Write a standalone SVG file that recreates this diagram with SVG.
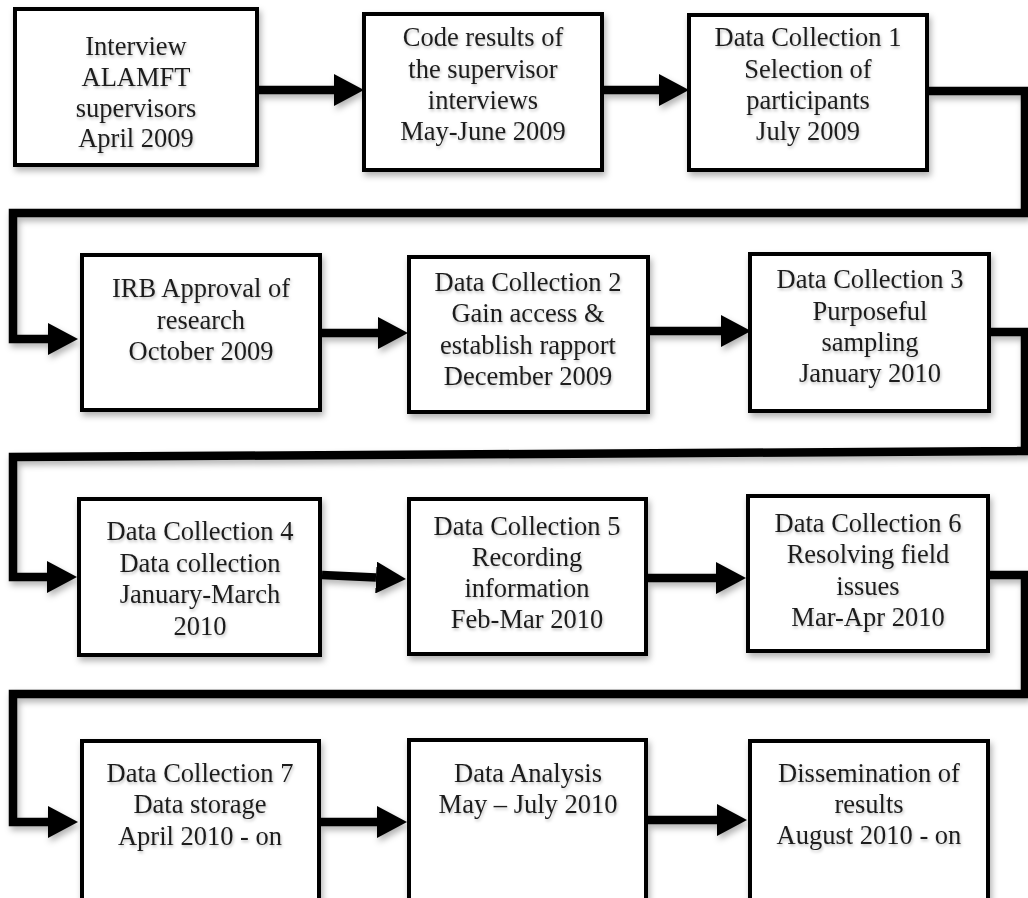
<svg xmlns="http://www.w3.org/2000/svg" width="1028" height="898" viewBox="0 0 1028 898">
  <defs>
    <filter id="shadow" x="-10%" y="-10%" width="125%" height="130%">
      <feDropShadow dx="2" dy="4" stdDeviation="3" flood-color="#000" flood-opacity="0.3"/>
    </filter>
    <!-- user-space region so that flat horizontal lines are not clipped away -->
    <filter id="lineShadow" filterUnits="userSpaceOnUse" x="0" y="0" width="1028" height="898">
      <feDropShadow dx="2" dy="4" stdDeviation="3" flood-color="#000" flood-opacity="0.3"/>
    </filter>
    <filter id="textGlow" x="-5%" y="-20%" width="110%" height="150%">
      <feDropShadow dx="1" dy="2" stdDeviation="1.5" flood-color="#000" flood-opacity="0.25"/>
    </filter>
    <marker id="head" markerUnits="userSpaceOnUse" markerWidth="30" markerHeight="32" viewBox="0 0 30 32" refX="0" refY="16" orient="auto">
      <path d="M0,0 L30,16 L0,32 Z" fill="#000"/>
    </marker>
  </defs>
  <style>
    .box { fill: #ffffff; stroke: #000; stroke-width: 4; filter: url(#shadow); }
    .link { fill: none; stroke: #000; stroke-width: 8.5; stroke-linejoin: miter; marker-end: url(#head); }
    .label { font-family: "Liberation Serif", "Times New Roman", serif; font-size: 26.5px; fill: #1f1f1f; text-anchor: middle; filter: url(#textGlow); }
  </style>

  <rect width="1028" height="898" fill="#ffffff"/>

  <!-- connectors -->
  <g id="connectors" filter="url(#lineShadow)">
    <path class="link" d="M259,90 H334"/>
    <path class="link" d="M604,90 H659"/>
    <path class="link" d="M929,91 H1025 V213 H13 V339 H48"/>
    <path class="link" d="M322,333 H378"/>
    <path class="link" d="M650,331 H721"/>
    <path class="link" d="M991,332 H1025 V451 L13,457 V577 H47"/>
    <path class="link" d="M322,575 L376,577.5"/>
    <path class="link" d="M648,578 H716"/>
    <path class="link" d="M990,575 H1025 V694 H13 V822 H48"/>
    <path class="link" d="M321,822 H377"/>
    <path class="link" d="M648,820 H717"/>
  </g>

  <!-- row 1 -->
  <g id="interview">
    <rect class="box" x="15" y="9" width="242" height="156"/>
    <text class="label"><tspan x="136" y="55">Interview</tspan><tspan x="136" y="86">ALAMFT</tspan><tspan x="136" y="117">supervisors</tspan><tspan x="136" y="147">April 2009</tspan></text>
  </g>
  <g id="code-results">
    <rect class="box" x="364" y="14" width="238" height="156"/>
    <text class="label"><tspan x="483" y="46">Code results of</tspan><tspan x="483" y="78">the supervisor</tspan><tspan x="483" y="109">interviews</tspan><tspan x="483" y="140">May-June 2009</tspan></text>
  </g>
  <g id="data-collection-1">
    <rect class="box" x="689" y="15" width="238" height="155"/>
    <text class="label"><tspan x="808" y="46">Data Collection 1</tspan><tspan x="808" y="78">Selection of</tspan><tspan x="808" y="109">participants</tspan><tspan x="808" y="140">July 2009</tspan></text>
  </g>

  <!-- row 2 -->
  <g id="irb-approval">
    <rect class="box" x="82" y="255" width="238" height="155"/>
    <text class="label"><tspan x="201" y="297">IRB Approval of</tspan><tspan x="201" y="329">research</tspan><tspan x="201" y="360">October 2009</tspan></text>
  </g>
  <g id="data-collection-2">
    <rect class="box" x="409" y="257" width="239" height="155"/>
    <text class="label"><tspan x="528" y="291">Data Collection 2</tspan><tspan x="528" y="322">Gain access &amp;</tspan><tspan x="528" y="354">establish rapport</tspan><tspan x="528" y="385">December 2009</tspan></text>
  </g>
  <g id="data-collection-3">
    <rect class="box" x="750" y="254" width="239" height="157"/>
    <text class="label"><tspan x="870" y="288">Data Collection 3</tspan><tspan x="870" y="320">Purposeful</tspan><tspan x="870" y="351">sampling</tspan><tspan x="870" y="382">January 2010</tspan></text>
  </g>

  <!-- row 3 -->
  <g id="data-collection-4">
    <rect class="box" x="79" y="499" width="241" height="156"/>
    <text class="label"><tspan x="200" y="540">Data Collection 4</tspan><tspan x="200" y="572">Data collection</tspan><tspan x="200" y="603">January-March</tspan><tspan x="200" y="635">2010</tspan></text>
  </g>
  <g id="data-collection-5">
    <rect class="box" x="409" y="499" width="237" height="155"/>
    <text class="label"><tspan x="527" y="535">Data Collection 5</tspan><tspan x="527" y="566">Recording</tspan><tspan x="527" y="597">information</tspan><tspan x="527" y="628">Feb-Mar 2010</tspan></text>
  </g>
  <g id="data-collection-6">
    <rect class="box" x="748" y="496" width="240" height="155"/>
    <text class="label"><tspan x="868" y="532">Data Collection 6</tspan><tspan x="868" y="563">Resolving field</tspan><tspan x="868" y="595">issues</tspan><tspan x="868" y="626">Mar-Apr 2010</tspan></text>
  </g>

  <!-- row 4 -->
  <g id="data-collection-7">
    <rect class="box" x="82" y="741" width="237" height="200"/>
    <text class="label"><tspan x="200" y="782">Data Collection 7</tspan><tspan x="200" y="813">Data storage</tspan><tspan x="200" y="845">April 2010 - on</tspan></text>
  </g>
  <g id="data-analysis">
    <rect class="box" x="409" y="740" width="237" height="200"/>
    <text class="label"><tspan x="528" y="782">Data Analysis</tspan><tspan x="528" y="813">May – July 2010</tspan></text>
  </g>
  <g id="dissemination">
    <rect class="box" x="750" y="741" width="238" height="200"/>
    <text class="label"><tspan x="869" y="782">Dissemination of</tspan><tspan x="869" y="813">results</tspan><tspan x="869" y="844">August 2010 - on</tspan></text>
  </g>
</svg>
